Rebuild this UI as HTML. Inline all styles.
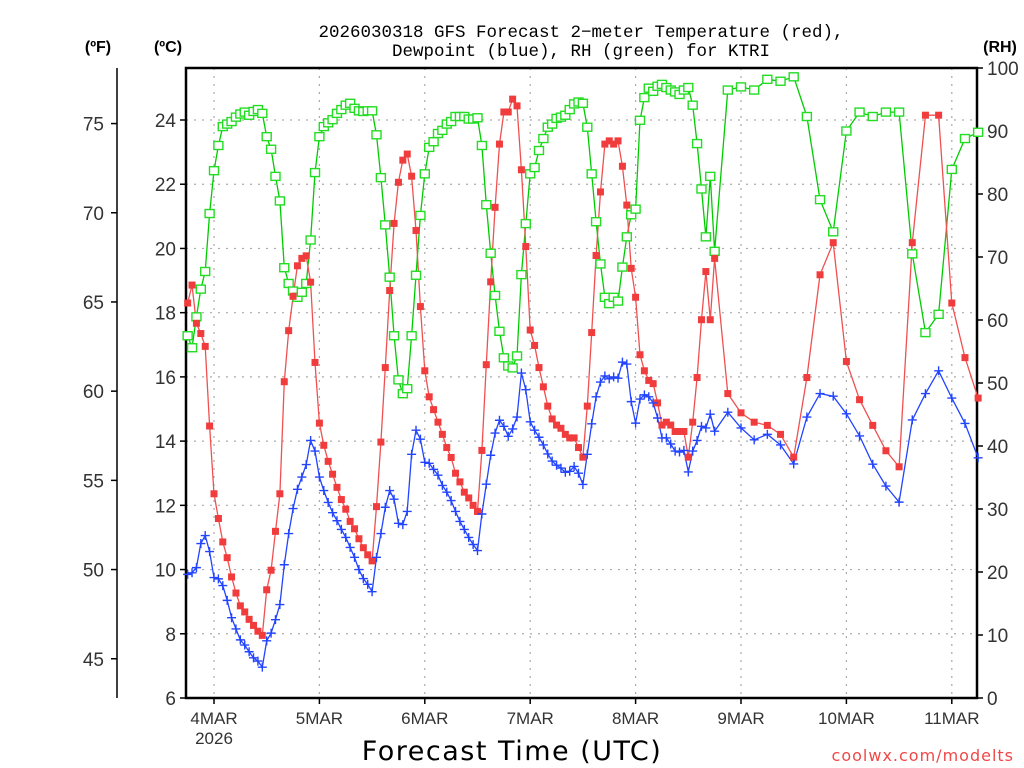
<!DOCTYPE html>
<html><head><meta charset="utf-8"><style>
html,body{margin:0;padding:0;background:#fff;}
svg{display:block;font-family:"Liberation Sans","DejaVu Sans",sans-serif;}
</style></head><body>
<svg id="chart" width="1024" height="768" viewBox="0 0 1024 768" xmlns="http://www.w3.org/2000/svg">
<text x="581" y="37" font-size="17.5" font-family="Liberation Mono, monospace" text-anchor="middle" fill="#000">2026030318 GFS Forecast 2−meter Temperature (red),</text>
<text x="581" y="56" font-size="17.5" font-family="Liberation Mono, monospace" text-anchor="middle" fill="#000">Dewpoint (blue), RH (green) for KTRI</text>
<text x="98" y="52" font-size="16" font-weight="bold" text-anchor="middle">(ºF)</text>
<text x="168" y="52" font-size="16" font-weight="bold" text-anchor="middle">(ºC)</text>
<text x="1000" y="52" font-size="16" font-weight="bold" text-anchor="middle">(RH)</text>
<text x="512" y="760" font-size="27" font-family="DejaVu Sans, sans-serif" text-anchor="middle" letter-spacing="1.5" fill="#000">Forecast Time (UTC)</text>
<text x="1014" y="761" font-size="16" font-family="DejaVu Sans, sans-serif" text-anchor="end" letter-spacing="1" fill="#f04848">coolwx.com/modelts</text>
<g id="grid"></g><g id="axes"></g><g id="series"></g>
</svg>
<script>
const dayLabels = ["4MAR","5MAR","6MAR","7MAR","8MAR","9MAR","10MAR","11MAR"];
const dayHours = [6,30,54,78,102,126,150,174];
const cTicks = [6,8,10,12,14,16,18,20,22,24];
const fTicks = [45,50,55,60,65,70,75];
const rhTicks = [0,10,20,30,40,50,60,70,80,90,100];
const temps = [18.3,18.86,17.67,17.35,16.95,14.47,12.36,11.59,10.86,10.37,
9.77,9.27,8.87,8.68,8.45,8.26,8.08,7.95,9.37,9.98,
11.19,12.36,15.85,17.44,18.51,19.46,19.69,19.77,18.95,16.45,
14.56,13.87,13.37,12.97,12.56,12.18,11.88,11.5,11.27,10.96,
10.68,10.46,10.27,11.96,13.97,16.29,18.69,20.78,22.06,22.75,
22.94,22.25,20.56,18.19,16.19,15.38,14.98,14.59,14.21,13.8,
13.49,13.0,12.73,12.41,12.23,12.0,11.81,13.71,16.38,18.96,
21.28,23.25,24.25,24.25,24.65,24.44,22.45,20.06,17.46,16.98,
16.29,15.69,15.09,14.69,14.5,14.4,14.21,14.1,14.1,13.8,
13.5,15.09,17.38,19.78,21.76,23.25,23.35,23.25,23.35,22.56,
21.35,19.38,18.48,16.69,16.19,15.89,15.79,15.19,14.5,14.59,
14.5,14.3,14.3,14.3,13.5,14.59,15.98,17.78,19.28,17.78,
19.69,
15.48,14.88,14.59,14.49,14.21,13.5,15.98,19.18,20.18,16.48,15.29,14.49,13.7,13.2,20.18,24.15,24.15,18.3,16.6,15.34];
const dewpoints = [9.85,9.9,10.06,10.81,11.06,10.56,9.75,9.71,9.5,9.04,
8.5,8.15,7.81,7.65,7.44,7.25,7.15,6.96,7.78,8.02,
8.44,8.91,10.15,11.12,11.9,12.5,12.88,13.27,14.02,13.69,
12.88,12.46,12.09,11.77,11.52,11.25,11.0,10.69,10.38,10.0,
9.72,9.54,9.31,10.38,11.12,11.94,12.46,12.19,11.44,11.4,
11.81,13.59,14.34,14.06,13.34,13.31,13.12,12.94,12.62,12.41,
12.15,11.81,11.5,11.25,11.0,10.78,10.59,11.73,12.66,13.56,
14.25,14.65,14.46,14.15,14.38,14.75,16.12,15.6,14.6,14.34,
14.12,13.88,13.6,13.38,13.25,13.16,13.03,13.06,13.21,13.0,
12.65,13.59,14.54,15.38,15.84,16.03,15.94,16.0,15.96,16.46,
16.4,15.23,14.56,15.31,15.44,15.38,15.19,14.72,14.1,14.1,
13.91,13.69,13.66,13.71,13.04,13.69,14.02,14.46,14.41,14.84,
14.31,
14.9,14.41,14.04,14.21,13.88,13.29,14.75,15.48,15.4,14.85,14.16,13.28,12.6,12.1,14.66,15.48,16.19,15.34,14.55,13.48];
const rh = [57.5,55.6,60.5,64.9,67.7,76.9,83.7,87.7,90.7,91.1,
91.5,92.2,92.7,93.0,92.5,93.1,93.4,92.8,89.1,87.1,
82.8,78.9,68.3,65.8,64.6,63.6,64.4,65.8,72.7,83.4,
89.1,90.7,91.3,91.8,92.8,93.4,94.1,94.4,93.6,93.2,
93.1,93.2,93.2,89.4,82.6,75.1,66.8,57.5,50.5,48.3,
49.1,57.5,67.1,76.6,83.2,87.4,88.3,89.6,90.1,91.1,
91.5,92.3,92.3,92.3,91.9,91.9,92.1,87.7,78.3,70.6,
63.9,58.2,54.0,52.7,52.4,54.3,67.2,75.3,83.2,84.2,
86.9,88.8,90.6,91.1,92.0,92.2,92.5,93.4,94.3,94.6,
94.4,90.6,83.2,75.6,68.9,63.6,62.6,63.6,63.0,68.4,
73.2,76.7,77.6,91.7,95.3,96.8,96.3,97.1,97.4,96.9,
96.5,96.2,95.8,96.5,96.9,94.1,88.0,80.8,73.2,82.8,
70.9,
96.5,97.0,96.5,98.2,97.9,98.6,92.3,79.1,74.0,90.0,93.0,92.3,93.0,93.0,70.5,58.0,60.9,83.9,88.8,89.8];

const hours = [];
for (let h = 0; h <= 120; h++) hours.push(h);
for (let h = 123; h <= 180; h += 3) hours.push(h);

const L=186, R=977, T=68, B=698;
const xOf = h => 214 + (h - 6) * (105.4/24);
const yC = c => B - (c - 6) * (B - 120) / 18;
const yF = f => yC((f - 32) * 5 / 9);
const yRH = r => B - r * (B - T) / 100;
const NS = "http://www.w3.org/2000/svg";
function mk(tag, attrs, parent){const e=document.createElementNS(NS,tag);for(const k in attrs)e.setAttribute(k,attrs[k]);parent.appendChild(e);return e;}
const grid=document.getElementById('grid'), axes=document.getElementById('axes'), series=document.getElementById('series');

cTicks.forEach(c=>{
  const y=yC(c);
  const g=mk('line',{x1:L,x2:R,y1:y,y2:y,stroke:'#aaa','stroke-width':1.2,'stroke-dasharray':'2,6'},grid);
  
  
  const t=mk('line',{x1:L-6,x2:L,y1:y,y2:y,stroke:'#000','stroke-width':1.5},axes);
  
  
  const lb=mk('text',{x:L-10,y:y+7,'font-size':19,'text-anchor':'end',fill:'#333'},axes);
  lb.textContent=c;
  
  
});
dayHours.forEach((h,i)=>{
  const x=xOf(h);
  const g=mk('line',{x1:x,x2:x,y1:T,y2:B,stroke:'#aaa','stroke-width':1.2,'stroke-dasharray':'2,6'},grid);
  
  
  const t=mk('line',{x1:x,x2:x,y1:B,y2:B+6,stroke:'#000','stroke-width':1.5},axes);
  
  
  const lb=mk('text',{x:x,y:724,'font-size':17,'text-anchor':'middle',fill:'#333'},axes);
  lb.textContent=dayLabels[i];
  
  
});
const yr=mk('text',{x:xOf(6),y:744,'font-size':17,'text-anchor':'middle',fill:'#333'},axes);
yr.textContent='2026';



const fAxis=mk('line',{x1:117,x2:117,y1:68,y2:698,stroke:'#000','stroke-width':1.5},axes);


fTicks.forEach(f=>{
  const y=yF(f);
  const t=mk('line',{x1:111,x2:117,y1:y,y2:y,stroke:'#000','stroke-width':1.5},axes);
  
  
  const lb=mk('text',{x:104,y:y+7,'font-size':19,'text-anchor':'end',fill:'#333'},axes);
  lb.textContent=f;
  
  
});
rhTicks.forEach(r=>{
  const y=yRH(r);
  const t=mk('line',{x1:R,x2:R+6,y1:y,y2:y,stroke:'#000','stroke-width':1.5},axes);
  
  
  const lb=mk('text',{x:R+10,y:y+7,'font-size':19,'text-anchor':'start',fill:'#333'},axes);
  lb.textContent=r;
  
  
});
const frame=mk('rect',{x:L,y:T,width:R-L,height:B-T,fill:'none',stroke:'#000','stroke-width':2.5},axes);



function drawLine(vals, yf, color, name){
  const pts=hours.map((h,i)=>xOf(h).toFixed(1)+','+yf(vals[i]).toFixed(1)).join(' ');
  const p=mk('polyline',{points:pts,fill:'none',stroke:color,'stroke-width':1.3},series);
  
  
}
drawLine(rh,yRH,'#00cc00','rh-line');
drawLine(temps,yC,'#f05050','temperature-line');
drawLine(dewpoints,yC,'#2244ff','dewpoint-line');
hours.forEach((h,i)=>{
  const x=xOf(h);
  const g=mk('rect',{x:x-4.5,y:yRH(rh[i])-4,width:9,height:8,fill:'#fff',stroke:'#22dd22','stroke-width':1.4},series);
  
  
});
hours.forEach((h,i)=>{
  const x=xOf(h);
  const m=mk('rect',{x:x-3.5,y:yC(temps[i])-3.5,width:7,height:7,fill:'#f03c3c'},series);
  
  
});
hours.forEach((h,i)=>{
  const x=xOf(h), y=yC(dewpoints[i]);
  const m=mk('path',{d:`M${x-4.5},${y}H${x+4.5}M${x},${y-4.5}V${y+4.5}`,stroke:'#2244ff','stroke-width':1.4,fill:'none'},series);
  
  
});
</script>
</body></html>
